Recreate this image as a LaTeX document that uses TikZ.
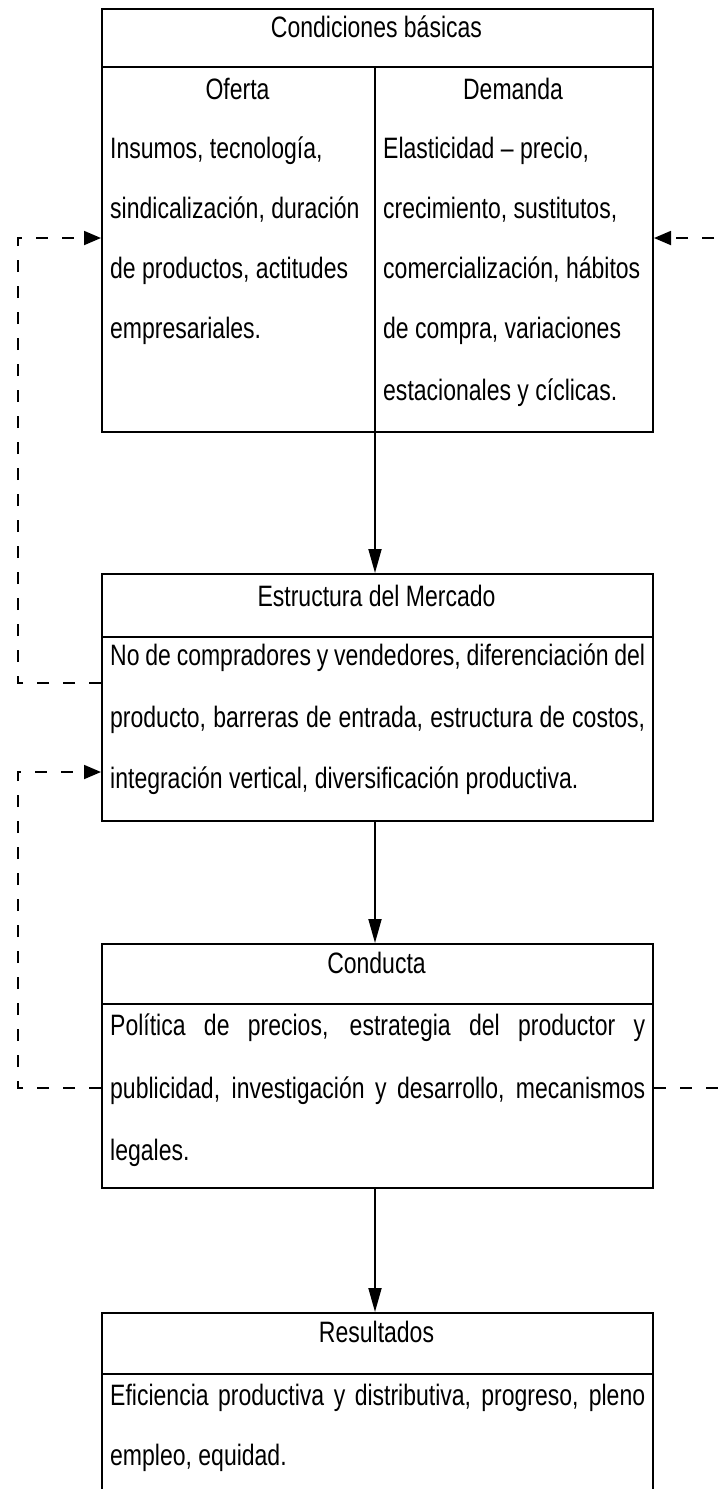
\documentclass[tikz,border=0pt]{standalone}
\usepackage{fontspec}
\setmainfont{Liberation Sans}[FakeStretch=0.78]
\usetikzlibrary{arrows.meta}
\begin{document}
\begin{tikzpicture}[x=1pt,y=-1pt,
  box/.style={draw, line width=2pt, rectangle, anchor=north west, inner sep=0pt, minimum width=551pt},
  boxline/.style={line width=2pt},
  txt/.style={inner sep=0pt, font=\fontsize{29.5pt}{34pt}\selectfont},
  arr/.style={line width=1.8pt, -{Triangle[length=24pt,width=13pt]}},
  dashline/.style={line width=1.8pt, dash pattern=on 12pt off 14pt},
  darr/.style={dashline, -{Triangle[length=17pt,width=14pt]}}]
\fill[white] (0,0) rectangle (727,1489);
\useasboundingbox (0,0) rectangle (727,1489);
\clip (0,0) rectangle (727,1489);

% boxes
\node[box, minimum height=423pt] (b1) at (101,8) {};
\node[box, minimum height=247pt] (b2) at (101,573) {};
\node[box, minimum height=244pt] (b3) at (101,943) {};
\node[box, minimum height=190pt] (b4) at (101,1312) {};

% dividers
\draw[boxline] ([yshift=-59pt]b1.north west) -- ([yshift=-59pt]b1.north east);
\draw[boxline] ([yshift=-59pt,xshift=-2.5pt]b1.north) -- ([xshift=-2.5pt]b1.south);
\draw[boxline] ([yshift=-64pt]b2.north west) -- ([yshift=-64pt]b2.north east);
\draw[boxline] ([yshift=-61pt]b3.north west) -- ([yshift=-61pt]b3.north east);
\draw[boxline] ([yshift=-62pt]b4.north west) -- ([yshift=-62pt]b4.north east);

% box 1 texts
\node[txt, anchor=base] (t1) at (376.5,37) {Condiciones básicas};
\node[txt, anchor=base] (of) at (237.5,99) {Oferta};
\node[txt, anchor=base] (de) at (513,99) {Demanda};
\node[txt, anchor=base west] (o1) at (110,158) {Insumos, tecnología,};
\node[txt, anchor=base west] (o2) at (110,218) {sindicalización, duración};
\node[txt, anchor=base west] (o3) at (110,278) {de productos, actitudes};
\node[txt, anchor=base west] (o4) at (110,338) {empresariales.};
\node[txt, anchor=base west] (d1) at (383,158) {Elasticidad – precio,};
\node[txt, anchor=base west] (d2) at (383,218) {crecimiento, sustitutos,};
\node[txt, anchor=base west] (d3) at (383,278) {comercialización, hábitos};
\node[txt, anchor=base west] (d4) at (383,338) {de compra, variaciones};
\node[txt, anchor=base west] (d5) at (383,400) {estacionales y cíclicas.};

% box 2 texts
\node[txt, anchor=base] (t2) at (376.5,606) {Estructura del Mercado};
\node[txt, anchor=base west] (m1) at (110,665) {\makebox[535pt][s]{No de compradores y vendedores, diferenciación del}};
\node[txt, anchor=base west] (m2) at (110,727) {\makebox[535pt][s]{producto, barreras de entrada, estructura de costos,}};
\node[txt, anchor=base west] (m3) at (110,788) {integración vertical, diversificación productiva.};

% box 3 texts
\node[txt, anchor=base] (t3) at (376.5,973) {Conducta};
\node[txt, anchor=base west] (c1) at (110,1035) {\makebox[535pt][s]{Política de precios, estrategia del productor y}};
\node[txt, anchor=base west] (c2) at (110,1098) {\makebox[535pt][s]{publicidad, investigación y desarrollo, mecanismos}};
\node[txt, anchor=base west] (c3) at (110,1160) {legales.};

% box 4 texts
\node[txt, anchor=base] (t4) at (376.5,1342) {Resultados};
\node[txt, anchor=base west] (r1) at (110,1405) {\makebox[535pt][s]{Eficiencia productiva y distributiva, progreso, pleno}};
\node[txt, anchor=base west] (r2) at (110,1465) {empleo, equidad.};

% solid arrows
\draw[arr] ([xshift=-2.5pt]b1.south) -- ([xshift=-2.5pt]b2.north);
\draw[arr] ([xshift=-2.5pt]b2.south) -- ([xshift=-2.5pt]b3.north);
\draw[arr] ([xshift=-2.5pt]b3.south) -- ([xshift=-2.5pt]b4.north);

% dashed feedback
\coordinate (La) at (18,683);
\coordinate (Lb) at (18,238);
\coordinate (Lc) at (18,1088);
\coordinate (Ld) at (18,772);
\coordinate (Ra) at (740,1088);
\coordinate (Rb) at (740,238);
\draw[darr] (b2.west |- La) -- (La) -- (Lb) -- (b1.west |- Lb);
\draw[darr] (b3.west |- Lc) -- (Lc) -- (Ld) -- (b2.west |- Ld);
\draw[dashline] (b3.east |- Ra) -- (Ra);
\draw[darr] (Rb) -- (b1.east |- Rb);
\end{tikzpicture}
\end{document}
